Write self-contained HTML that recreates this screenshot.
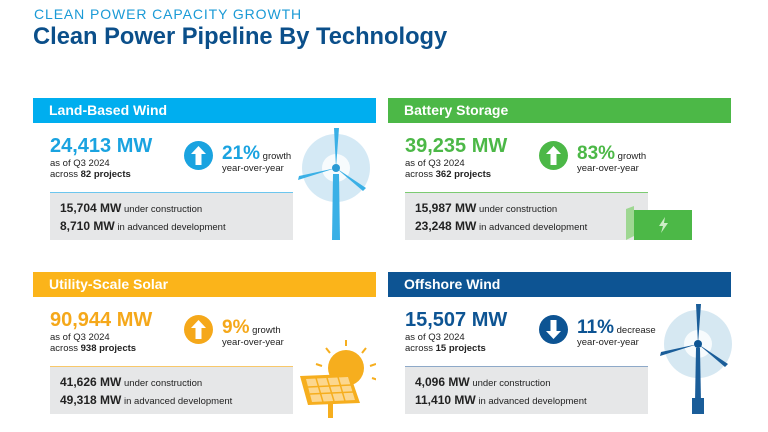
<!DOCTYPE html>
<html><head><meta charset="utf-8"><style>
*{margin:0;padding:0;box-sizing:border-box}
body{width:768px;height:432px;background:#fff;position:relative;overflow:hidden;font-family:"Liberation Sans",Arial,sans-serif;color:#222}
.a{position:absolute;white-space:nowrap}
.hd{position:absolute;height:25px;width:343px;color:#fff;font-weight:bold;font-size:14px;line-height:25px;padding-left:16px}
.num{position:absolute;font-weight:bold;font-size:20px;line-height:20px}
.sm{position:absolute;font-size:9.5px;line-height:11px}
.gb{position:absolute;width:243px;height:48px;background:#e6e7e8;border-top:1px solid;padding:7px 0 0 10px;font-size:9.5px;line-height:17px}
.gb b{font-size:12px}
.pc{position:absolute;font-size:9.5px;line-height:12px}
.pc b{font-size:19px;line-height:19px}
</style></head><body>
<div class="a" style="left:34px;top:6px;font-size:14px;color:#1a9ad6;letter-spacing:0.9px">CLEAN POWER CAPACITY GROWTH</div>
<div class="a" style="left:33px;top:24px;font-size:23.7px;font-weight:bold;color:#0b4f8a">Clean Power Pipeline By Technology</div>

<!-- Land wind -->
<div class="hd" style="left:33px;top:98px;background:#00aeef">Land-Based Wind</div>
<div class="num" style="left:50px;top:136px;color:#1aa3e0">24,413 MW</div>
<div class="sm" style="left:50px;top:158px">as of Q3 2024<br>across <b>82 projects</b></div>
<svg class="a" style="left:184px;top:141px" width="29" height="29"><circle cx="14.5" cy="14.5" r="14.5" fill="#1aa3e0"/><path d="M14.5 5 L22 13 H17.5 V24 H11.5 V13 H7 Z" fill="#fff"/></svg>
<div class="pc" style="left:222px;top:144px"><b style="color:#1aa3e0">21%</b> growth<br>year-over-year</div>
<div class="gb" style="left:50px;top:192px;border-color:#6cc6ee"><b>15,704 MW</b> under construction<br><b>8,710 MW</b> in advanced development</div>
<svg class="a" style="left:296px;top:126px" width="80" height="116">
<circle cx="40" cy="42" r="34" fill="#d4e9f5"/><circle cx="40" cy="42" r="14" fill="#fff" opacity=".8"/>
<polygon points="37,48 43,48 44,114 36,114" fill="#3ab0e6"/>
<path d="M40 42 L38 2 L43 2 Z" fill="#3ab0e6"/><path d="M40 42 L2 54 L3 50 Z" fill="#3ab0e6"/><path d="M40 42 L70 62 L67 65 Z" fill="#3ab0e6"/>
<circle cx="40" cy="42" r="4" fill="#2a9ad4"/></svg>

<!-- Battery -->
<div class="hd" style="left:388px;top:98px;background:#4cb847">Battery Storage</div>
<div class="num" style="left:405px;top:136px;color:#4cb847">39,235 MW</div>
<div class="sm" style="left:405px;top:158px">as of Q3 2024<br>across <b>362 projects</b></div>
<svg class="a" style="left:539px;top:141px" width="29" height="29"><circle cx="14.5" cy="14.5" r="14.5" fill="#4cb847"/><path d="M14.5 5 L22 13 H17.5 V24 H11.5 V13 H7 Z" fill="#fff"/></svg>
<div class="pc" style="left:577px;top:144px"><b style="color:#4cb847">83%</b> growth<br>year-over-year</div>
<div class="gb" style="left:405px;top:192px;border-color:#7ccb72"><b>15,987 MW</b> under construction<br><b>23,248 MW</b> in advanced development</div>
<svg class="a" style="left:626px;top:206px" width="66" height="36"><polygon points="0,3 8,0 8,30 0,34" fill="#9ed792"/><rect x="8" y="4" width="58" height="30" fill="#4cb847"/><path d="M39 11 L33 20 H37 L35 27 L42 17 H38 Z" fill="#cdeec6"/></svg>

<!-- Solar -->
<div class="hd" style="left:33px;top:272px;background:#fbb41a">Utility-Scale Solar</div>
<div class="num" style="left:50px;top:310px;color:#f5a81a">90,944 MW</div>
<div class="sm" style="left:50px;top:332px">as of Q3 2024<br>across <b>938 projects</b></div>
<svg class="a" style="left:184px;top:315px" width="29" height="29"><circle cx="14.5" cy="14.5" r="14.5" fill="#f5a81a"/><path d="M14.5 5 L22 13 H17.5 V24 H11.5 V13 H7 Z" fill="#fff"/></svg>
<div class="pc" style="left:222px;top:318px"><b style="color:#f5a81a">9%</b> growth<br>year-over-year</div>
<div class="gb" style="left:50px;top:366px;border-color:#f8c86a"><b>41,626 MW</b> under construction<br><b>49,318 MW</b> in advanced development</div>
<svg class="a" style="left:296px;top:336px" width="80" height="84">
<circle cx="50" cy="32" r="18" fill="#f6ae1e"/>
<g stroke="#f6ae1e" stroke-width="2"><line x1="50" y1="4" x2="50" y2="10"/><line x1="30" y1="12" x2="34" y2="17"/><line x1="70" y1="12" x2="66" y2="17"/><line x1="20" y1="28" x2="26" y2="30"/><line x1="80" y1="28" x2="74" y2="30"/><line x1="82" y1="44" x2="76" y2="42"/></g>
<polygon points="4,40 54,38 64,67 12,69" fill="#f6ae1e"/>
<g fill="#fcd78f"><polygon points="10,43 52,41 59,64 16,66"/></g>
<g stroke="#f6ae1e" stroke-width="1.5"><line x1="20" y1="42" x2="27" y2="66"/><line x1="31" y1="42" x2="38" y2="65"/><line x1="42" y1="41" x2="49" y2="65"/><line x1="12" y1="51" x2="55" y2="49"/><line x1="14" y1="58" x2="57" y2="56"/></g>
<rect x="32" y="68" width="5" height="14" fill="#f6ae1e"/></svg>

<!-- Offshore -->
<div class="hd" style="left:388px;top:272px;background:#0d5493">Offshore Wind</div>
<div class="num" style="left:405px;top:310px;color:#0d5493">15,507 MW</div>
<div class="sm" style="left:405px;top:332px">as of Q3 2024<br>across <b>15 projects</b></div>
<svg class="a" style="left:539px;top:315px" width="29" height="29"><circle cx="14.5" cy="14.5" r="14.5" fill="#0d5493"/><path d="M14.5 24 L22 16 H17.5 V5 H11.5 V16 H7 Z" fill="#fff"/></svg>
<div class="pc" style="left:577px;top:318px"><b style="color:#0d5493">11%</b> decrease<br>year-over-year</div>
<div class="gb" style="left:405px;top:366px;border-color:#8ea9c8"><b>4,096 MW</b> under construction<br><b>11,410 MW</b> in advanced development</div>
<svg class="a" style="left:658px;top:302px" width="80" height="116">
<circle cx="40" cy="42" r="34" fill="#d6e8f2"/><circle cx="40" cy="42" r="14" fill="#fff" opacity=".8"/>
<polygon points="38,46 42,46 43,100 37,100" fill="#1a5d99"/><rect x="34" y="96" width="12" height="16" fill="#1a5d99"/>
<path d="M40 42 L38 2 L43 2 Z" fill="#1a5d99"/><path d="M40 42 L2 54 L3 50 Z" fill="#1a5d99"/><path d="M40 42 L70 62 L67 65 Z" fill="#1a5d99"/>
<circle cx="40" cy="42" r="4" fill="#0d5493"/></svg>
</body></html>
